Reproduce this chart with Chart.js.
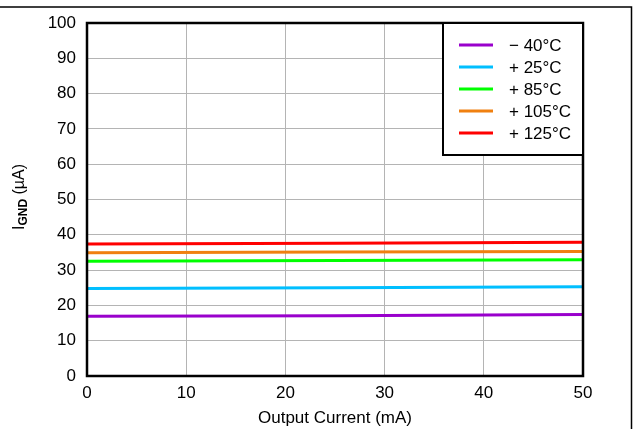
<!DOCTYPE html>
<html>
<head>
<meta charset="utf-8">
<script src="https://cdn.jsdelivr.net/npm/chart.js@4"></script>
<style>
  html, body { margin: 0; padding: 0; background: #fff; }
  #wrap { position: relative; width: 634px; height: 429px; }
</style>
</head>
<body>
<div id="wrap"><canvas id="myChart" width="634" height="429"></canvas></div>
<script>
// data
var currents = [0, 25, 50];
var seriesLabels = ["\u2212 40\u00b0C", "+ 25\u00b0C", "+ 85\u00b0C", "+ 105\u00b0C", "+ 125\u00b0C"];
var seriesColors = ["#9900cc", "#00bfff", "#00ff00", "#f08010", "#ff0000"];
var igndM40 = [16.9, 17.1, 17.4];
var ignd25 = [24.8, 25.0, 25.3];
var ignd85 = [32.5, 32.7, 32.9];
var ignd105 = [34.9, 35.1, 35.3];
var ignd125 = [37.4, 37.6, 37.9];
var xTicks = [0, 10, 20, 30, 40, 50];
var yTicks = [0, 10, 20, 30, 40, 50, 60, 70, 80, 90, 100];

var FONT = "'Liberation Sans', Arial, sans-serif";
var allSeries = [igndM40, ignd25, ignd85, ignd105, ignd125];

var datasets = allSeries.map(function (vals, i) {
    return {
        label: seriesLabels[i],
        data: vals.map(function (v, j) { return { x: currents[j], y: v }; }),
        borderColor: seriesColors[i],
        backgroundColor: seriesColors[i],
        borderWidth: 3,
        pointRadius: 0,
        tension: 0
    };
});

// frame, y title and legend box
var extras = {
    id: "extras",
    afterDatasetsDraw: function (chart) {
        var ctx = chart.ctx;
        var a = chart.chartArea;
        ctx.save();
        ctx.strokeStyle = "#000";
        ctx.lineWidth = 2.5;
        ctx.strokeRect(a.left, a.top, a.right - a.left, a.bottom - a.top);

        // legend
        var lx = 443, ly = 23, lw = a.right - 443, lh = 132;
        ctx.fillStyle = "#fff";
        ctx.fillRect(lx, ly, lw, lh);
        ctx.lineWidth = 2;
        ctx.strokeRect(lx, ly, lw, lh);
        ctx.font = "17px " + FONT;
        ctx.textBaseline = "middle";
        ctx.textAlign = "left";
        chart.data.datasets.forEach(function (ds, i) {
            var y = 45 + i * 22;
            ctx.strokeStyle = ds.borderColor;
            ctx.lineWidth = 3;
            ctx.beginPath();
            ctx.moveTo(459, y);
            ctx.lineTo(493, y);
            ctx.stroke();
            ctx.fillStyle = "#000";
            ctx.fillText(ds.label, 509, y + 1);
        });

        // y axis title with subscript
        ctx.translate(24, 197);
        ctx.rotate(-Math.PI / 2);
        ctx.fillStyle = "#000";
        ctx.textBaseline = "alphabetic";
        var p1 = "I", p2 = "GND", p3 = " (\u00b5A)";
        ctx.font = "16px " + FONT;
        var w1 = ctx.measureText(p1).width;
        var w3 = ctx.measureText(p3).width;
        ctx.font = "bold 12px " + FONT;
        var w2 = ctx.measureText(p2).width;
        var x0 = -(w1 + w2 + w3) / 2;
        ctx.font = "16px " + FONT;
        ctx.fillText(p1, x0, 0);
        ctx.font = "bold 12px " + FONT;
        ctx.fillText(p2, x0 + w1, 3);
        ctx.font = "16px " + FONT;
        ctx.fillText(p3, x0 + w1 + w2, 0);
        ctx.restore();

        // outer frame lines (top and right)
        ctx.save();
        ctx.strokeStyle = "#000";
        ctx.lineWidth = 1.5;
        ctx.beginPath();
        ctx.moveTo(0, 7);
        ctx.lineTo(631.5, 7);
        ctx.lineTo(631.5, 429);
        ctx.stroke();
        ctx.restore();
    }
};

new Chart("myChart", {
    type: "line",
    data: { datasets: datasets },
    plugins: [extras],
    options: {
        responsive: false,
        animation: false,
        layout: { padding: { left: 0, top: 23, right: 51, bottom: 0 } },
        plugins: {
            legend: { display: false },
            tooltip: { enabled: false }
        },
        scales: {
            x: {
                type: "linear",
                min: 0,
                max: 50,
                afterBuildTicks: function (s) { s.ticks = xTicks.map(function (v) { return { value: v }; }); },
                afterFit: function (s) { s.height = 53; },
                grid: { color: "#b4b4b4", lineWidth: 1, drawTicks: false },
                border: { display: false },
                ticks: { color: "#000", padding: 7, font: { family: FONT, size: 17 } },
                title: {
                    display: true,
                    text: "Output Current (mA)",
                    color: "#000",
                    padding: { top: 3, bottom: 0 },
                    font: { family: FONT, size: 17 }
                }
            },
            y: {
                type: "linear",
                min: 0,
                max: 100,
                afterBuildTicks: function (s) { s.ticks = yTicks.map(function (v) { return { value: v }; }); },
                afterFit: function (s) { s.width = 87; },
                grid: { color: "#b4b4b4", lineWidth: 1, drawTicks: false },
                border: { display: false },
                ticks: { color: "#000", padding: 11, font: { family: FONT, size: 17 } }
            }
        }
    }
});
</script>
</body>
</html>
